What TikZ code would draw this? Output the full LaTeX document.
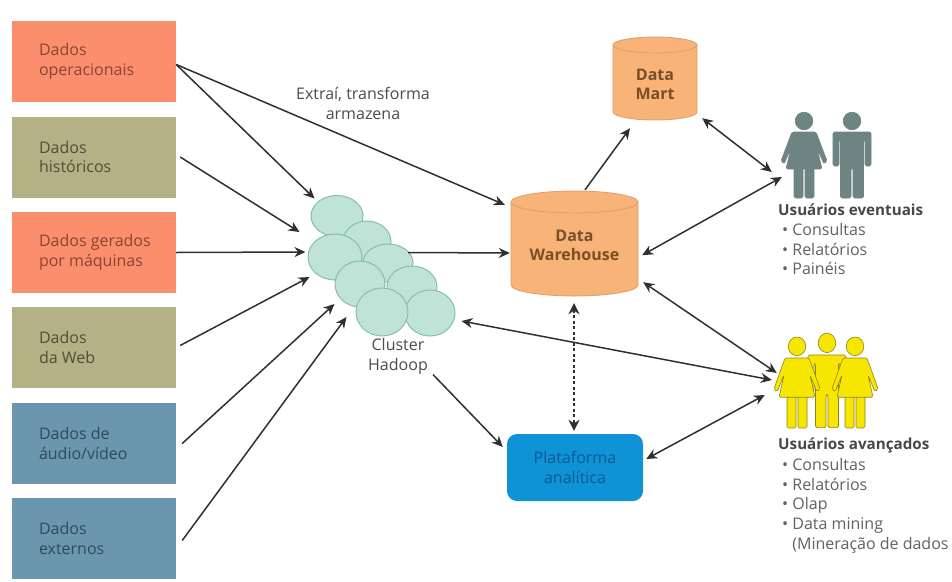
\documentclass[tikz,border=0pt]{standalone}
\usepackage{fontspec}
\setmainfont{Open Sans}
\usetikzlibrary{shapes.geometric,arrows.meta}
\definecolor{salmon}{HTML}{FB8E6C}
\definecolor{khaki}{HTML}{B4B186}
\definecolor{steel}{HTML}{6A96AE}
\definecolor{cylfill}{HTML}{F8B378}
\definecolor{cyledge}{HTML}{DE9F68}
\definecolor{mint}{HTML}{BFE4D7}
\definecolor{mintedge}{HTML}{86BFAA}
\definecolor{arrowdark}{HTML}{303030}
\definecolor{greyfig}{HTML}{6E8482}
\definecolor{yellowfig}{HTML}{F7E600}
\definecolor{yellowedge}{HTML}{8E8420}
\definecolor{platblue}{HTML}{0F93D6}
\definecolor{plattext}{HTML}{0B5A96}
\definecolor{bluetext}{HTML}{2F4A5A}
\definecolor{salmontext}{HTML}{8A4436}
\definecolor{khakitext}{HTML}{4F4F38}
\definecolor{cyltext}{HTML}{7A4E26}
\newcommand{\bodyfont}{\fontsize{16}{19.7}\selectfont}
\newcommand{\headfont}{\fontsize{15.2}{19.5}\selectfont\bfseries}
\tikzset{
  srcbox/.style={rectangle,minimum width=164pt,minimum height=81pt,inner xsep=0pt,
    inner ysep=0pt,align=flush left,text width=110pt,font=\bodyfont},
  cellnode/.style={ellipse,draw=mintedge,fill=mint,line width=1pt,inner sep=0pt},
  conn/.style={draw=arrowdark,line width=1.5pt,-{Stealth[length=11pt,width=10pt]}},
  twoway/.style={draw=arrowdark,line width=1.5pt,{Stealth[length=11pt,width=10pt]}-{Stealth[length=11pt,width=10pt]}},
  dotconn/.style={draw=arrowdark,line width=2.2pt,dash pattern=on 3pt off 2.5pt,
    {Stealth[length=11pt,width=11pt]}-{Stealth[length=11pt,width=11pt]}},
  labeltext/.style={font=\bodyfont,text=black!70,align=center,inner sep=0pt},
  listtext/.style={font=\bodyfont,text=black!62,align=left,inner sep=0pt,anchor=north west},
  listhead/.style={font=\headfont,text=black!72,inner sep=0pt,anchor=west},
  fig/.style={line join=round,rounded corners=1.5pt},
}
% cylinder: name, x1, x2, y1, y2, ry, text, text centre y
\newcommand{\cylinderbox}[8]{
  \fill[cylfill,draw=cyledge,line width=.8pt] (#2,#4+#6) arc[start angle=180,end angle=360,x radius={(#3-#2)/2},y radius=#6]
    -- (#3,#5-#6) arc[start angle=0,end angle=180,x radius={(#3-#2)/2},y radius=#6] -- cycle;
  \draw[cyledge,line width=.8pt] (#2,#4+#6) arc[start angle=180,end angle=0,x radius={(#3-#2)/2},y radius=#6];
  \node[font=\bodyfont\bfseries,text=cyltext,align=center,inner sep=0pt,
    minimum width={#3-#2},minimum height={#5-#4}] (#1) at ({(#2+#3)/2},#8) {#7};
}
\newcommand{\womanfig}[5]{% x, shoulder y, fill, edge, yscale
  \begin{scope}[shift={(#1,#2)},yscale=#5]
    \fill[#3,draw=#4,line width=.6pt] (0,-11) circle[radius=8.8];
    \fill[#3,draw=#4,line width=.6pt,fig] (-10,36) rectangle (-1,66);
    \fill[#3,draw=#4,line width=.6pt,fig] (1,36) rectangle (10,66);
    \fill[#3,draw=#4,line width=.6pt,fig] (-12,0) -- (12,0) -- (23,29) -- (20,32) -- (13,16) -- (18,37) -- (-18,37) -- (-13,16) -- (-20,32) -- (-23,29) -- cycle;
  \end{scope}
}
\newcommand{\manfig}[5]{%
  \begin{scope}[shift={(#1,#2)},yscale=#5]
    \fill[#3,draw=#4,line width=.6pt] (0,-11) circle[radius=8.8];
    \fill[#3,draw=#4,line width=.6pt,fig] (-19,0) -- (19,0) -- (19,34) -- (13,34) -- (13,8) -- (11.5,8) -- (11.5,66) -- (1,66) -- (1,36) -- (-1,36) -- (-1,66) -- (-11.5,66) -- (-11.5,8) -- (-13,8) -- (-13,34) -- (-19,34) -- cycle;
  \end{scope}
}
\begin{document}
\begin{tikzpicture}[x=1pt,y=-1pt]
\useasboundingbox (0,0) rectangle (952,581);
\fill[white] (0,0) rectangle (952,581);

% source boxes
\node[srcbox,fill=salmon,text=salmontext] (a1) at (94,61.5) {Dados\\operacionais};
\node[srcbox,fill=khaki,text=khakitext] (a2) at (94,157) {Dados\\históricos};
\node[srcbox,fill=salmon,text=salmontext] (a3) at (94,252.5) {\mbox{Dados gerados}\\\mbox{por máquinas}};
\node[srcbox,fill=khaki,text=khakitext] (a4) at (94,347.5) {Dados\\da Web};
\node[srcbox,fill=steel,text=bluetext] (a5) at (94,443.5) {Dados de\\áudio/vídeo};
\node[srcbox,fill=steel,text=bluetext] (a6) at (94,538.5) {Dados\\externos};

% Hadoop cluster
\node[cellnode,minimum width=52pt,minimum height=41pt] (c1) at (337,216) {};
\node[cellnode,minimum width=48pt,minimum height=42pt] (c2) at (367,242) {};
\node[cellnode,minimum width=54pt,minimum height=46pt] (c3) at (335,257) {};
\node[cellnode,minimum width=50pt,minimum height=38pt] (c4) at (388,263) {};
\node[cellnode,minimum width=50pt,minimum height=42pt] (c6) at (412,287) {};
\node[cellnode,minimum width=50pt,minimum height=46pt] (c5) at (360,284) {};
\node[cellnode,minimum width=50pt,minimum height=46pt] (c7) at (430,313) {};
\node[cellnode,minimum width=52pt,minimum height=48pt] (c8) at (382,312) {};
\node[labeltext] (hadoop) at (398,356.5) {Cluster\\Hadoop};

% data stores
\cylinderbox{dw}{511}{638}{191}{296}{11}{Data\\Warehouse}{245.5}
\cylinderbox{dm}{613}{697}{37}{120}{8}{Data\\Mart}{84.5}
\node[rectangle,rounded corners=10pt,fill=platblue,minimum width=136pt,minimum height=67pt,
  font=\bodyfont,text=plattext,align=center,inner sep=0pt] (pa) at (575,467.5) {Plataforma\\analítica};

\node[labeltext] (etl) at (363,103.5) {Extraí, transforma\\armazena};

% people
\node[inner sep=0pt,minimum width=96pt,minimum height=90pt] (ev) at (828,155) {};
\womanfig{804}{132}{greyfig}{greyfig}{1}
\manfig{852}{132}{greyfig}{greyfig}{1}
\node[inner sep=0pt,minimum width=104pt,minimum height=92pt] (av) at (826,383) {};
\manfig{827}{355}{yellowfig}{yellowedge}{1.1}
\womanfig{797}{358}{yellowfig}{yellowedge}{1.06}
\womanfig{855}{358}{yellowfig}{yellowedge}{1.06}

\node[listhead] (evh) at (778,210) {Usuários eventuais};
\node[listtext] (evl) at (782,223) {• Consultas\\• Relatórios\\• Painéis};
\node[listhead] (avh) at (778,445) {Usuários avançados};
\node[listtext] (avl) at (782,458) {• Consultas\\• Relatórios\\• Olap\\• Data mining\\\hphantom{• }(Mineração de dados};

% connectors
\draw[conn] ([shift={(0,3)}]a1.east) -- ([shift={(-6,-1)}]c1.135);
\draw[conn] ([shift={(0,3)}]a1.east) -- ([shift={(-6,12)}]dw.north west);
\draw[conn] ([shift={(4,0)}]a2.east) -- ([shift={(-8,-25)}]c3.west);
\draw[conn] (a3.east) -- ([shift={(-2,-5)}]c3.west);
\draw[conn] ([shift={(4,-2)}]a4.east) -- ([shift={(2,20)}]c3.west);
\draw[conn] ([shift={(6,0)}]a5.east) -- ([shift={(-21,-8)}]c8.west);
\draw[conn] ([shift={(6,2)}]a6.east) -- ([shift={(-9,5)}]c8.west);
\draw[conn] ([shift={(20,9)}]c4.north) -- ([shift={(-1,7.5)}]dw.west);
\draw[conn] ([shift={(10.5,-3)}]dw.north) -- ([shift={(-25,2)}]dm.south);
\draw[twoway] ([shift={(5,-8)}]dm.south east) -- ([shift={(-8,17)}]ev.west);
\draw[twoway] ([shift={(4,-43)}]dw.south east) -- ([shift={(2,22)}]ev.west);
\draw[twoway] ([shift={(5,-16)}]dw.south east) -- ([shift={(3,-10)}]av.west);
\draw[twoway] ([shift={(6,8)}]c7.east) -- ([shift={(-2,-3)}]av.west);
\draw[twoway] ([shift={(3,-8.5)}]pa.east) -- ([shift={(-9,12)}]av.west);
\draw[conn] ([shift={(35,0)}]hadoop.south) -- ([shift={(-4,-20.5)}]pa.west);
\draw[dotconn] ([shift={(-0.5,5)}]dw.south) -- ([shift={(-1,-3)}]pa.north);
\end{tikzpicture}
\end{document}
